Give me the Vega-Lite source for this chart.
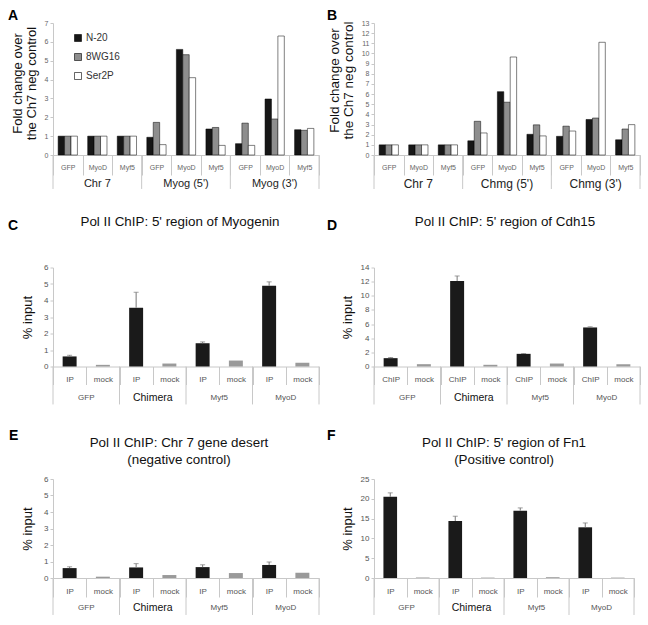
{
"$schema": "https://vega.github.io/schema/vega-lite/v6.json",
"background": "white",
"padding": {"left": 8, "top": 9, "right": 0, "bottom": 0},
"config": {"view": {"stroke": null}, "font": "Liberation Sans",
 "axis": {"labelFont": "Liberation Sans", "titleFont": "Liberation Sans"},
 "axisY": {"grid": false, "domainColor": "#c8c8c8", "tickColor": "#c8c8c8", "tickSize": 3, "labelFontSize": 8, "labelColor": "#555", "labelPadding": 2, "labelOverlap": false, "titleFontSize": 13, "titleFontWeight": "normal", "titleColor": "#111"}},
"datasets": {
"A": [
{"k":"Chr 7|GFP","g":"Chr 7","s":"GFP","series":"N-20","v":1},{"k":"Chr 7|GFP","g":"Chr 7","s":"GFP","series":"8WG16","v":1},{"k":"Chr 7|GFP","g":"Chr 7","s":"GFP","series":"Ser2P","v":1},
{"k":"Chr 7|MyoD","g":"Chr 7","s":"MyoD","series":"N-20","v":1},{"k":"Chr 7|MyoD","g":"Chr 7","s":"MyoD","series":"8WG16","v":1},{"k":"Chr 7|MyoD","g":"Chr 7","s":"MyoD","series":"Ser2P","v":1},
{"k":"Chr 7|Myf5","g":"Chr 7","s":"Myf5","series":"N-20","v":1},{"k":"Chr 7|Myf5","g":"Chr 7","s":"Myf5","series":"8WG16","v":1},{"k":"Chr 7|Myf5","g":"Chr 7","s":"Myf5","series":"Ser2P","v":1},
{"k":"Myog (5')|GFP","g":"Myog (5')","s":"GFP","series":"N-20","v":0.94},{"k":"Myog (5')|GFP","g":"Myog (5')","s":"GFP","series":"8WG16","v":1.73},{"k":"Myog (5')|GFP","g":"Myog (5')","s":"GFP","series":"Ser2P","v":0.55},
{"k":"Myog (5')|MyoD","g":"Myog (5')","s":"MyoD","series":"N-20","v":5.6},{"k":"Myog (5')|MyoD","g":"Myog (5')","s":"MyoD","series":"8WG16","v":5.32},{"k":"Myog (5')|MyoD","g":"Myog (5')","s":"MyoD","series":"Ser2P","v":4.1},
{"k":"Myog (5')|Myf5","g":"Myog (5')","s":"Myf5","series":"N-20","v":1.38},{"k":"Myog (5')|Myf5","g":"Myog (5')","s":"Myf5","series":"8WG16","v":1.46},{"k":"Myog (5')|Myf5","g":"Myog (5')","s":"Myf5","series":"Ser2P","v":0.51},
{"k":"Myog (3')|GFP","g":"Myog (3')","s":"GFP","series":"N-20","v":0.6},{"k":"Myog (3')|GFP","g":"Myog (3')","s":"GFP","series":"8WG16","v":1.69},{"k":"Myog (3')|GFP","g":"Myog (3')","s":"GFP","series":"Ser2P","v":0.51},
{"k":"Myog (3')|MyoD","g":"Myog (3')","s":"MyoD","series":"N-20","v":2.97},{"k":"Myog (3')|MyoD","g":"Myog (3')","s":"MyoD","series":"8WG16","v":1.91},{"k":"Myog (3')|MyoD","g":"Myog (3')","s":"MyoD","series":"Ser2P","v":6.31},
{"k":"Myog (3')|Myf5","g":"Myog (3')","s":"Myf5","series":"N-20","v":1.34},{"k":"Myog (3')|Myf5","g":"Myog (3')","s":"Myf5","series":"8WG16","v":1.31},{"k":"Myog (3')|Myf5","g":"Myog (3')","s":"Myf5","series":"Ser2P","v":1.41}
],
"B": [
{"k":"Chr 7|GFP","g":"Chr 7","s":"GFP","series":"N-20","v":1},{"k":"Chr 7|GFP","g":"Chr 7","s":"GFP","series":"8WG16","v":1},{"k":"Chr 7|GFP","g":"Chr 7","s":"GFP","series":"Ser2P","v":1},
{"k":"Chr 7|MyoD","g":"Chr 7","s":"MyoD","series":"N-20","v":1},{"k":"Chr 7|MyoD","g":"Chr 7","s":"MyoD","series":"8WG16","v":1},{"k":"Chr 7|MyoD","g":"Chr 7","s":"MyoD","series":"Ser2P","v":1},
{"k":"Chr 7|Myf5","g":"Chr 7","s":"Myf5","series":"N-20","v":1},{"k":"Chr 7|Myf5","g":"Chr 7","s":"Myf5","series":"8WG16","v":1},{"k":"Chr 7|Myf5","g":"Chr 7","s":"Myf5","series":"Ser2P","v":1},
{"k":"Chmg (5')|GFP","g":"Chmg (5')","s":"GFP","series":"N-20","v":1.4},{"k":"Chmg (5')|GFP","g":"Chmg (5')","s":"GFP","series":"8WG16","v":3.32},{"k":"Chmg (5')|GFP","g":"Chmg (5')","s":"GFP","series":"Ser2P","v":2.17},
{"k":"Chmg (5')|MyoD","g":"Chmg (5')","s":"MyoD","series":"N-20","v":6.24},{"k":"Chmg (5')|MyoD","g":"Chmg (5')","s":"MyoD","series":"8WG16","v":5.2},{"k":"Chmg (5')|MyoD","g":"Chmg (5')","s":"MyoD","series":"Ser2P","v":9.65},
{"k":"Chmg (5')|Myf5","g":"Chmg (5')","s":"Myf5","series":"N-20","v":2.04},{"k":"Chmg (5')|Myf5","g":"Chmg (5')","s":"Myf5","series":"8WG16","v":2.97},{"k":"Chmg (5')|Myf5","g":"Chmg (5')","s":"Myf5","series":"Ser2P","v":1.88},
{"k":"Chmg (3')|GFP","g":"Chmg (3')","s":"GFP","series":"N-20","v":1.84},{"k":"Chmg (3')|GFP","g":"Chmg (3')","s":"GFP","series":"8WG16","v":2.84},{"k":"Chmg (3')|GFP","g":"Chmg (3')","s":"GFP","series":"Ser2P","v":2.36},
{"k":"Chmg (3')|MyoD","g":"Chmg (3')","s":"MyoD","series":"N-20","v":3.5},{"k":"Chmg (3')|MyoD","g":"Chmg (3')","s":"MyoD","series":"8WG16","v":3.64},{"k":"Chmg (3')|MyoD","g":"Chmg (3')","s":"MyoD","series":"Ser2P","v":11.1},
{"k":"Chmg (3')|Myf5","g":"Chmg (3')","s":"Myf5","series":"N-20","v":1.5},{"k":"Chmg (3')|Myf5","g":"Chmg (3')","s":"Myf5","series":"8WG16","v":2.56},{"k":"Chmg (3')|Myf5","g":"Chmg (3')","s":"Myf5","series":"Ser2P","v":2.99}
],
"C": [
{"k":"GFP|IP","g":"GFP","s":"IP","v":0.61,"e":0.68},{"k":"GFP|mock","g":"GFP","s":"mock","v":0.1},
{"k":"Chimera|IP","g":"Chimera","s":"IP","v":3.56,"e":4.5},{"k":"Chimera|mock","g":"Chimera","s":"mock","v":0.18},
{"k":"Myf5|IP","g":"Myf5","s":"IP","v":1.41,"e":1.49},{"k":"Myf5|mock","g":"Myf5","s":"mock","v":0.36},
{"k":"MyoD|IP","g":"MyoD","s":"IP","v":4.89,"e":5.13},{"k":"MyoD|mock","g":"MyoD","s":"mock","v":0.22}
],
"D": [
{"k":"GFP|ChIP","g":"GFP","s":"ChIP","v":1.18,"e":1.27},{"k":"GFP|mock","g":"GFP","s":"mock","v":0.33},
{"k":"Chimera|ChIP","g":"Chimera","s":"ChIP","v":12.1,"e":12.8},{"k":"Chimera|mock","g":"Chimera","s":"mock","v":0.24},
{"k":"Myf5|ChIP","g":"Myf5","s":"ChIP","v":1.79,"e":1.84},{"k":"Myf5|mock","g":"Myf5","s":"mock","v":0.42},
{"k":"MyoD|ChIP","g":"MyoD","s":"ChIP","v":5.52,"e":5.62},{"k":"MyoD|mock","g":"MyoD","s":"mock","v":0.33}
],
"E": [
{"k":"GFP|IP","g":"GFP","s":"IP","v":0.6,"e":0.68},{"k":"GFP|mock","g":"GFP","s":"mock","v":0.08},
{"k":"Chimera|IP","g":"Chimera","s":"IP","v":0.64,"e":0.87},{"k":"Chimera|mock","g":"Chimera","s":"mock","v":0.18},
{"k":"Myf5|IP","g":"Myf5","s":"IP","v":0.66,"e":0.8},{"k":"Myf5|mock","g":"Myf5","s":"mock","v":0.3},
{"k":"MyoD|IP","g":"MyoD","s":"IP","v":0.79,"e":0.97},{"k":"MyoD|mock","g":"MyoD","s":"mock","v":0.32}
],
"F": [
{"k":"GFP|IP","g":"GFP","s":"IP","v":20.5,"e":21.5},{"k":"GFP|mock","g":"GFP","s":"mock","v":0.1},
{"k":"Chimera|IP","g":"Chimera","s":"IP","v":14.4,"e":15.6},{"k":"Chimera|mock","g":"Chimera","s":"mock","v":0.1},
{"k":"Myf5|IP","g":"Myf5","s":"IP","v":17.0,"e":17.7},{"k":"Myf5|mock","g":"Myf5","s":"mock","v":0.2},
{"k":"MyoD|IP","g":"MyoD","s":"IP","v":12.8,"e":13.9},{"k":"MyoD|mock","g":"MyoD","s":"mock","v":0.1}
]
},
"bounds": "flush",
"columns": 2,
"spacing": {"row": 112.5, "column": 55},
"concat": [
{
"width": 266, "height": 132,
"data": {"name": "A"},
"title": {"text": "A", "anchor": "start", "frame": "group", "dx": -45, "dy": 15, "offset": 0, "baseline": "alphabetic", "fontSize": 14, "fontWeight": "bold", "font": "Liberation Sans", "color": "#000"},
"layer": [
{"mark": {"type": "bar", "stroke": "#000", "strokeWidth": 0.5},
 "encoding": {
  "x": {"field": "k", "type": "nominal", "scale": {"domain": ["Chr 7|GFP","Chr 7|MyoD","Chr 7|Myf5","Myog (5')|GFP","Myog (5')|MyoD","Myog (5')|Myf5","Myog (3')|GFP","Myog (3')|MyoD","Myog (3')|Myf5"], "paddingInner": 0, "paddingOuter": 0},
   "axis": {"title": null, "labelExpr": "split(datum.label, '|')[1]", "labelAngle": 0, "labelOverlap": false, "labelFontSize": 7, "labelColor": "#666", "tickBand": "extent", "tickSize": 20, "tickColor": "#c8c8c8", "domainColor": "#c8c8c8", "labelPadding": -12, "labelBaseline": "top"}},
  "xOffset": {"field": "series", "type": "nominal", "scale": {"domain": ["N-20","8WG16","Ser2P"], "paddingOuter": 0.8, "paddingInner": 0}},
  "y": {"field": "v", "type": "quantitative", "scale": {"domain": [0, 7], "nice": false},
   "axis": {"title": ["Fold change over", "the Ch7 neg control"], "values": [0,1,2,3,4,5,6,7], "format": "d", "labelFontSize": 7, "labelColor": "#666", "titleLineHeight": 13.5, "titlePadding": 6, "titleY": 60}},
  "fill": {"field": "series", "type": "nominal", "scale": {"domain": ["N-20","8WG16","Ser2P"], "range": ["#161616","#8e8e8e","#ffffff"]},
   "legend": {"orient": "none", "legendX": 20, "legendY": 10, "title": null, "symbolType": "square", "symbolSize": 49, "symbolStrokeColor": "#000", "symbolStrokeWidth": 0.6, "labelFontSize": 10, "labelColor": "#333", "labelFont": "Liberation Sans", "rowPadding": 9, "labelOffset": 3}}
 }},
{"transform": [{"filter": {"and": [{"field": "series", "equal": "N-20"}, {"field": "s", "equal": "GFP"}]}}],
 "mark": {"type": "rule", "color": "#c8c8c8"},
 "encoding": {"x": {"field": "k", "type": "nominal", "bandPosition": 0}, "y": {"datum": 0, "axis": {"title": ["Fold change over", "the Ch7 neg control"], "values": [0,1,2,3,4,5,6,7], "format": "d", "labelFontSize": 7, "labelColor": "#666", "titleLineHeight": 13.5, "titlePadding": 6, "titleY": 60}}, "y2": {"datum": -1.8}}},
{"transform": [{"filter": {"and": [{"field": "series", "equal": "N-20"}, {"field": "k", "equal": "Myog (3')|Myf5"}]}}],
 "mark": {"type": "rule", "color": "#c8c8c8"},
 "encoding": {"x": {"field": "k", "type": "nominal", "bandPosition": 1}, "y": {"datum": 0, "axis": {"title": ["Fold change over", "the Ch7 neg control"], "values": [0,1,2,3,4,5,6,7], "format": "d", "labelFontSize": 7, "labelColor": "#666", "titleLineHeight": 13.5, "titlePadding": 6, "titleY": 60}}, "y2": {"datum": -1.8}}},
{"transform": [{"filter": {"and": [{"field": "series", "equal": "N-20"}, {"field": "s", "equal": "MyoD"}]}}],
 "mark": {"type": "text", "font": "Liberation Sans", "fontSize": 11, "color": "#222", "baseline": "middle", "dy": 29},
 "encoding": {"x": {"field": "k", "type": "nominal"}, "y": {"datum": 0, "axis": {"title": ["Fold change over", "the Ch7 neg control"], "values": [0,1,2,3,4,5,6,7], "format": "d", "labelFontSize": 7, "labelColor": "#666", "titleLineHeight": 13.5, "titlePadding": 6, "titleY": 60}}, "text": {"field": "g"}}}
]
},
{
"width": 266, "height": 132,
"data": {"name": "B"},
"title": {"text": "B", "anchor": "start", "frame": "group", "dx": -47, "dy": 15, "offset": 0, "baseline": "alphabetic", "fontSize": 14, "fontWeight": "bold", "font": "Liberation Sans", "color": "#000"},
"layer": [
{"mark": {"type": "bar", "stroke": "#000", "strokeWidth": 0.5},
 "encoding": {
  "x": {"field": "k", "type": "nominal", "scale": {"domain": ["Chr 7|GFP","Chr 7|MyoD","Chr 7|Myf5","Chmg (5')|GFP","Chmg (5')|MyoD","Chmg (5')|Myf5","Chmg (3')|GFP","Chmg (3')|MyoD","Chmg (3')|Myf5"], "paddingInner": 0, "paddingOuter": 0},
   "axis": {"title": null, "labelExpr": "split(datum.label, '|')[1]", "labelAngle": 0, "labelOverlap": false, "labelFontSize": 7, "labelColor": "#666", "tickBand": "extent", "tickSize": 20, "tickColor": "#c8c8c8", "domainColor": "#c8c8c8", "labelPadding": -12, "labelBaseline": "top"}},
  "xOffset": {"field": "series", "type": "nominal", "scale": {"domain": ["N-20","8WG16","Ser2P"], "paddingOuter": 0.8, "paddingInner": 0}},
  "y": {"field": "v", "type": "quantitative", "scale": {"domain": [0, 13], "nice": false},
   "axis": {"title": ["Fold change over", "the Ch7 neg control"], "values": [0,1,2,3,4,5,6,7,8,9,10,11,12,13], "format": "d", "labelFontSize": 7, "labelColor": "#666", "titleFontSize": 13.5, "titleLineHeight": 14, "titlePadding": 6, "titleY": 57}},
  "fill": {"field": "series", "type": "nominal", "scale": {"domain": ["N-20","8WG16","Ser2P"], "range": ["#161616","#8e8e8e","#ffffff"]},
   "legend": {"orient": "none", "legendX": 23, "legendY": 23, "title": null, "symbolType": "square", "symbolSize": 64, "symbolStrokeColor": "#000", "symbolStrokeWidth": 0.6, "labelFontSize": 12, "labelColor": "#333", "labelFont": "Liberation Sans", "rowPadding": 7, "labelOffset": 3}}
 }},
{"transform": [{"filter": {"and": [{"field": "series", "equal": "N-20"}, {"field": "s", "equal": "GFP"}]}}],
 "mark": {"type": "rule", "color": "#c8c8c8"},
 "encoding": {"x": {"field": "k", "type": "nominal", "bandPosition": 0}, "y": {"datum": 0, "axis": {"title": ["Fold change over", "the Ch7 neg control"], "values": [0,1,2,3,4,5,6,7,8,9,10,11,12,13], "format": "d", "labelFontSize": 7, "labelColor": "#666", "titleFontSize": 13.5, "titleLineHeight": 14, "titlePadding": 6, "titleY": 57}}, "y2": {"datum": -3.35}}},
{"transform": [{"filter": {"and": [{"field": "series", "equal": "N-20"}, {"field": "k", "equal": "Chmg (3')|Myf5"}]}}],
 "mark": {"type": "rule", "color": "#c8c8c8"},
 "encoding": {"x": {"field": "k", "type": "nominal", "bandPosition": 1}, "y": {"datum": 0, "axis": {"title": ["Fold change over", "the Ch7 neg control"], "values": [0,1,2,3,4,5,6,7,8,9,10,11,12,13], "format": "d", "labelFontSize": 7, "labelColor": "#666", "titleFontSize": 13.5, "titleLineHeight": 14, "titlePadding": 6, "titleY": 57}}, "y2": {"datum": -3.35}}},
{"transform": [{"filter": {"and": [{"field": "series", "equal": "N-20"}, {"field": "s", "equal": "MyoD"}]}}],
 "mark": {"type": "text", "font": "Liberation Sans", "fontSize": 12, "color": "#222", "baseline": "middle", "dy": 29},
 "encoding": {"x": {"field": "k", "type": "nominal"}, "y": {"datum": 0, "axis": {"title": ["Fold change over", "the Ch7 neg control"], "values": [0,1,2,3,4,5,6,7,8,9,10,11,12,13], "format": "d", "labelFontSize": 7, "labelColor": "#666", "titleFontSize": 13.5, "titleLineHeight": 14, "titlePadding": 6, "titleY": 57}}, "text": {"field": "g"}}}
]
},
{
"width": 266, "height": 99,
"data": {"name": "C"},
"title": {"text": "C", "anchor": "start", "frame": "group", "dx": -45, "dy": 29, "offset": 0, "baseline": "alphabetic", "fontSize": 14, "fontWeight": "bold", "font": "Liberation Sans", "color": "#000"},
"layer": [
{"mark": {"type": "bar", "width": {"band": 0.42}},
 "encoding": {
  "x": {"field": "k", "type": "nominal", "scale": {"domain": ["GFP|IP","GFP|mock","Chimera|IP","Chimera|mock","Myf5|IP","Myf5|mock","MyoD|IP","MyoD|mock"], "paddingInner": 0, "paddingOuter": 0},
   "axis": {"title": null, "labelExpr": "split(datum.label, '|')[1]", "labelAngle": 0, "labelOverlap": false, "labelFontSize": 8, "labelColor": "#555", "tickBand": "extent", "tickSize": 18, "tickColor": "#c8c8c8", "domainColor": "#c8c8c8", "labelPadding": -9, "labelBaseline": "top"}},
  "y": {"field": "v", "type": "quantitative", "scale": {"domain": [0, 6], "nice": false},
   "axis": {"title": "% input", "values": [0,1,2,3,4,5,6], "format": "d", "titlePadding": 9}},
  "color": {"field": "s", "type": "nominal", "scale": {"domain": ["IP","mock"], "range": ["#1a1a1a","#9a9a9a"]}, "legend": null}
 }},
{"transform": [{"filter": "isValid(datum.e)"}],
 "mark": {"type": "rule", "color": "#777"},
 "encoding": {"x": {"field": "k", "type": "nominal"}, "y": {"field": "v", "type": "quantitative", "axis": {"title": "% input", "values": [0,1,2,3,4,5,6], "format": "d", "titlePadding": 9}}, "y2": {"field": "e"}}},
{"transform": [{"filter": "isValid(datum.e)"}],
 "mark": {"type": "tick", "color": "#777", "size": 5, "thickness": 1},
 "encoding": {"x": {"field": "k", "type": "nominal"}, "y": {"field": "e", "type": "quantitative", "axis": {"title": "% input", "values": [0,1,2,3,4,5,6], "format": "d", "titlePadding": 9}}}},
{"transform": [{"filter": {"field": "s", "equal": "IP"}}],
 "mark": {"type": "rule", "color": "#c8c8c8"},
 "encoding": {"x": {"field": "k", "type": "nominal", "bandPosition": 0}, "y": {"datum": 0, "axis": {"title": "% input", "values": [0,1,2,3,4,5,6], "format": "d", "titlePadding": 9}}, "y2": {"datum": -2.3}}},
{"transform": [{"filter": {"field": "k", "equal": "MyoD|mock"}}],
 "mark": {"type": "rule", "color": "#c8c8c8"},
 "encoding": {"x": {"field": "k", "type": "nominal", "bandPosition": 1}, "y": {"datum": 0, "axis": {"title": "% input", "values": [0,1,2,3,4,5,6], "format": "d", "titlePadding": 9}}, "y2": {"datum": -2.3}}},
{"transform": [{"filter": {"field": "s", "equal": "IP"}}],
 "mark": {"type": "text", "font": "Liberation Sans", "baseline": "middle", "dy": 31},
 "encoding": {"x": {"field": "k", "type": "nominal", "bandPosition": 1}, "y": {"datum": 0, "axis": {"title": "% input", "values": [0,1,2,3,4,5,6], "format": "d", "titlePadding": 9}}, "text": {"field": "g"},
  "size": {"condition": {"test": "datum.g === 'Chimera'", "value": 10.5}, "value": 8},
  "color": {"condition": {"test": "datum.g === 'Chimera'", "value": "#111"}, "value": "#555"}}},
{"data": {"values": [{}]},
 "mark": {"type": "text", "text": "Pol II ChIP: 5' region of Myogenin", "font": "Liberation Sans", "fontSize": 13.4, "color": "#111", "baseline": "alphabetic", "align": "center", "dy": -42, "dx": -6},
 "encoding": {"y": {"datum": 6, "axis": {"title": "% input", "values": [0,1,2,3,4,5,6], "format": "d", "titlePadding": 9}}}}
]
},
{
"width": 266, "height": 99,
"data": {"name": "D"},
"title": {"text": "D", "anchor": "start", "frame": "group", "dx": -47, "dy": 29, "offset": 0, "baseline": "alphabetic", "fontSize": 14, "fontWeight": "bold", "font": "Liberation Sans", "color": "#000"},
"layer": [
{"mark": {"type": "bar", "width": {"band": 0.42}},
 "encoding": {
  "x": {"field": "k", "type": "nominal", "scale": {"domain": ["GFP|ChIP","GFP|mock","Chimera|ChIP","Chimera|mock","Myf5|ChIP","Myf5|mock","MyoD|ChIP","MyoD|mock"], "paddingInner": 0, "paddingOuter": 0},
   "axis": {"title": null, "labelExpr": "split(datum.label, '|')[1]", "labelAngle": 0, "labelOverlap": false, "labelFontSize": 8, "labelColor": "#555", "tickBand": "extent", "tickSize": 18, "tickColor": "#c8c8c8", "domainColor": "#c8c8c8", "labelPadding": -9, "labelBaseline": "top"}},
  "y": {"field": "v", "type": "quantitative", "scale": {"domain": [0, 14], "nice": false},
   "axis": {"title": "% input", "values": [0,2,4,6,8,10,12,14], "format": "d", "titlePadding": 6}},
  "color": {"field": "s", "type": "nominal", "scale": {"domain": ["ChIP","mock"], "range": ["#1a1a1a","#9a9a9a"]}, "legend": null}
 }},
{"transform": [{"filter": "isValid(datum.e)"}],
 "mark": {"type": "rule", "color": "#777"},
 "encoding": {"x": {"field": "k", "type": "nominal"}, "y": {"field": "v", "type": "quantitative", "axis": {"title": "% input", "values": [0,2,4,6,8,10,12,14], "format": "d", "titlePadding": 6}}, "y2": {"field": "e"}}},
{"transform": [{"filter": "isValid(datum.e)"}],
 "mark": {"type": "tick", "color": "#777", "size": 5, "thickness": 1},
 "encoding": {"x": {"field": "k", "type": "nominal"}, "y": {"field": "e", "type": "quantitative", "axis": {"title": "% input", "values": [0,2,4,6,8,10,12,14], "format": "d", "titlePadding": 6}}}},
{"transform": [{"filter": {"field": "s", "equal": "ChIP"}}],
 "mark": {"type": "rule", "color": "#c8c8c8"},
 "encoding": {"x": {"field": "k", "type": "nominal", "bandPosition": 0}, "y": {"datum": 0, "axis": {"title": "% input", "values": [0,2,4,6,8,10,12,14], "format": "d", "titlePadding": 6}}, "y2": {"datum": -5.37}}},
{"transform": [{"filter": {"field": "k", "equal": "MyoD|mock"}}],
 "mark": {"type": "rule", "color": "#c8c8c8"},
 "encoding": {"x": {"field": "k", "type": "nominal", "bandPosition": 1}, "y": {"datum": 0, "axis": {"title": "% input", "values": [0,2,4,6,8,10,12,14], "format": "d", "titlePadding": 6}}, "y2": {"datum": -5.37}}},
{"transform": [{"filter": {"field": "s", "equal": "ChIP"}}],
 "mark": {"type": "text", "font": "Liberation Sans", "baseline": "middle", "dy": 31},
 "encoding": {"x": {"field": "k", "type": "nominal", "bandPosition": 1}, "y": {"datum": 0, "axis": {"title": "% input", "values": [0,2,4,6,8,10,12,14], "format": "d", "titlePadding": 6}}, "text": {"field": "g"},
  "size": {"condition": {"test": "datum.g === 'Chimera'", "value": 10.5}, "value": 8},
  "color": {"condition": {"test": "datum.g === 'Chimera'", "value": "#111"}, "value": "#555"}}},
{"data": {"values": [{}]},
 "mark": {"type": "text", "text": "Pol II ChIP: 5' region of Cdh15", "font": "Liberation Sans", "fontSize": 13.4, "color": "#111", "baseline": "alphabetic", "align": "center", "dy": -42, "dx": -2},
 "encoding": {"y": {"datum": 14, "axis": {"title": "% input", "values": [0,2,4,6,8,10,12,14], "format": "d", "titlePadding": 6}}}}
]
},
{
"width": 266, "height": 99,
"data": {"name": "E"},
"title": {"text": "E", "anchor": "start", "frame": "group", "dx": -44, "dy": 18, "offset": 0, "baseline": "alphabetic", "fontSize": 14, "fontWeight": "bold", "font": "Liberation Sans", "color": "#000"},
"layer": [
{"mark": {"type": "bar", "width": {"band": 0.42}},
 "encoding": {
  "x": {"field": "k", "type": "nominal", "scale": {"domain": ["GFP|IP","GFP|mock","Chimera|IP","Chimera|mock","Myf5|IP","Myf5|mock","MyoD|IP","MyoD|mock"], "paddingInner": 0, "paddingOuter": 0},
   "axis": {"title": null, "labelExpr": "split(datum.label, '|')[1]", "labelAngle": 0, "labelOverlap": false, "labelFontSize": 8, "labelColor": "#555", "tickBand": "extent", "tickSize": 19, "tickColor": "#c8c8c8", "domainColor": "#c8c8c8", "labelPadding": -10, "labelBaseline": "top"}},
  "y": {"field": "v", "type": "quantitative", "scale": {"domain": [0, 6], "nice": false},
   "axis": {"title": "% input", "values": [0,1,2,3,4,5,6], "format": "d", "titlePadding": 9}},
  "color": {"field": "s", "type": "nominal", "scale": {"domain": ["IP","mock"], "range": ["#1a1a1a","#9a9a9a"]}, "legend": null}
 }},
{"transform": [{"filter": "isValid(datum.e)"}],
 "mark": {"type": "rule", "color": "#777"},
 "encoding": {"x": {"field": "k", "type": "nominal"}, "y": {"field": "v", "type": "quantitative", "axis": {"title": "% input", "values": [0,1,2,3,4,5,6], "format": "d", "titlePadding": 9}}, "y2": {"field": "e"}}},
{"transform": [{"filter": "isValid(datum.e)"}],
 "mark": {"type": "tick", "color": "#777", "size": 5, "thickness": 1},
 "encoding": {"x": {"field": "k", "type": "nominal"}, "y": {"field": "e", "type": "quantitative", "axis": {"title": "% input", "values": [0,1,2,3,4,5,6], "format": "d", "titlePadding": 9}}}},
{"transform": [{"filter": {"field": "s", "equal": "IP"}}],
 "mark": {"type": "rule", "color": "#c8c8c8"},
 "encoding": {"x": {"field": "k", "type": "nominal", "bandPosition": 0}, "y": {"datum": 0, "axis": {"title": "% input", "values": [0,1,2,3,4,5,6], "format": "d", "titlePadding": 9}}, "y2": {"datum": -2.24}}},
{"transform": [{"filter": {"field": "k", "equal": "MyoD|mock"}}],
 "mark": {"type": "rule", "color": "#c8c8c8"},
 "encoding": {"x": {"field": "k", "type": "nominal", "bandPosition": 1}, "y": {"datum": 0, "axis": {"title": "% input", "values": [0,1,2,3,4,5,6], "format": "d", "titlePadding": 9}}, "y2": {"datum": -2.24}}},
{"transform": [{"filter": {"field": "s", "equal": "IP"}}],
 "mark": {"type": "text", "font": "Liberation Sans", "baseline": "middle", "dy": 30},
 "encoding": {"x": {"field": "k", "type": "nominal", "bandPosition": 1}, "y": {"datum": 0, "axis": {"title": "% input", "values": [0,1,2,3,4,5,6], "format": "d", "titlePadding": 9}}, "text": {"field": "g"},
  "size": {"condition": {"test": "datum.g === 'Chimera'", "value": 10.5}, "value": 8},
  "color": {"condition": {"test": "datum.g === 'Chimera'", "value": "#111"}, "value": "#555"}}},
{"data": {"values": [{}]},
 "mark": {"type": "text", "text": ["Pol II ChIP: Chr 7 gene desert", "(negative control)"], "lineHeight": 16.5, "font": "Liberation Sans", "fontSize": 13.4, "color": "#111", "baseline": "alphabetic", "align": "center", "dy": -32, "dx": -7},
 "encoding": {"y": {"datum": 6, "axis": {"title": "% input", "values": [0,1,2,3,4,5,6], "format": "d", "titlePadding": 9}}}}
]
},
{
"width": 260, "height": 99,
"data": {"name": "F"},
"title": {"text": "F", "anchor": "start", "frame": "group", "dx": -47, "dy": 18, "offset": 0, "baseline": "alphabetic", "fontSize": 14, "fontWeight": "bold", "font": "Liberation Sans", "color": "#000"},
"layer": [
{"mark": {"type": "bar", "width": {"band": 0.42}},
 "encoding": {
  "x": {"field": "k", "type": "nominal", "scale": {"domain": ["GFP|IP","GFP|mock","Chimera|IP","Chimera|mock","Myf5|IP","Myf5|mock","MyoD|IP","MyoD|mock"], "paddingInner": 0, "paddingOuter": 0},
   "axis": {"title": null, "labelExpr": "split(datum.label, '|')[1]", "labelAngle": 0, "labelOverlap": false, "labelFontSize": 8, "labelColor": "#555", "tickBand": "extent", "tickSize": 19, "tickColor": "#c8c8c8", "domainColor": "#c8c8c8", "labelPadding": -10, "labelBaseline": "top"}},
  "y": {"field": "v", "type": "quantitative", "scale": {"domain": [0, 25], "nice": false},
   "axis": {"title": "% input", "values": [0,5,10,15,20,25], "format": "d", "titlePadding": 6}},
  "color": {"field": "s", "type": "nominal", "scale": {"domain": ["IP","mock"], "range": ["#1a1a1a","#9a9a9a"]}, "legend": null}
 }},
{"transform": [{"filter": "isValid(datum.e)"}],
 "mark": {"type": "rule", "color": "#777"},
 "encoding": {"x": {"field": "k", "type": "nominal"}, "y": {"field": "v", "type": "quantitative", "axis": {"title": "% input", "values": [0,5,10,15,20,25], "format": "d", "titlePadding": 6}}, "y2": {"field": "e"}}},
{"transform": [{"filter": "isValid(datum.e)"}],
 "mark": {"type": "tick", "color": "#777", "size": 5, "thickness": 1},
 "encoding": {"x": {"field": "k", "type": "nominal"}, "y": {"field": "e", "type": "quantitative", "axis": {"title": "% input", "values": [0,5,10,15,20,25], "format": "d", "titlePadding": 6}}}},
{"transform": [{"filter": {"field": "s", "equal": "IP"}}],
 "mark": {"type": "rule", "color": "#c8c8c8"},
 "encoding": {"x": {"field": "k", "type": "nominal", "bandPosition": 0}, "y": {"datum": 0, "axis": {"title": "% input", "values": [0,5,10,15,20,25], "format": "d", "titlePadding": 6}}, "y2": {"datum": -9.34}}},
{"transform": [{"filter": {"field": "k", "equal": "MyoD|mock"}}],
 "mark": {"type": "rule", "color": "#c8c8c8"},
 "encoding": {"x": {"field": "k", "type": "nominal", "bandPosition": 1}, "y": {"datum": 0, "axis": {"title": "% input", "values": [0,5,10,15,20,25], "format": "d", "titlePadding": 6}}, "y2": {"datum": -9.34}}},
{"transform": [{"filter": {"field": "s", "equal": "IP"}}],
 "mark": {"type": "text", "font": "Liberation Sans", "baseline": "middle", "dy": 30},
 "encoding": {"x": {"field": "k", "type": "nominal", "bandPosition": 1}, "y": {"datum": 0, "axis": {"title": "% input", "values": [0,5,10,15,20,25], "format": "d", "titlePadding": 6}}, "text": {"field": "g"},
  "size": {"condition": {"test": "datum.g === 'Chimera'", "value": 10.5}, "value": 8},
  "color": {"condition": {"test": "datum.g === 'Chimera'", "value": "#111"}, "value": "#555"}}},
{"data": {"values": [{}]},
 "mark": {"type": "text", "text": ["Pol II ChIP: 5' region of Fn1", "(Positive control)"], "lineHeight": 16.5, "font": "Liberation Sans", "fontSize": 13.4, "color": "#111", "baseline": "alphabetic", "align": "center", "dy": -32, "dx": 0},
 "encoding": {"y": {"datum": 25, "axis": {"title": "% input", "values": [0,5,10,15,20,25], "format": "d", "titlePadding": 6}}}}
]
}
]
}
